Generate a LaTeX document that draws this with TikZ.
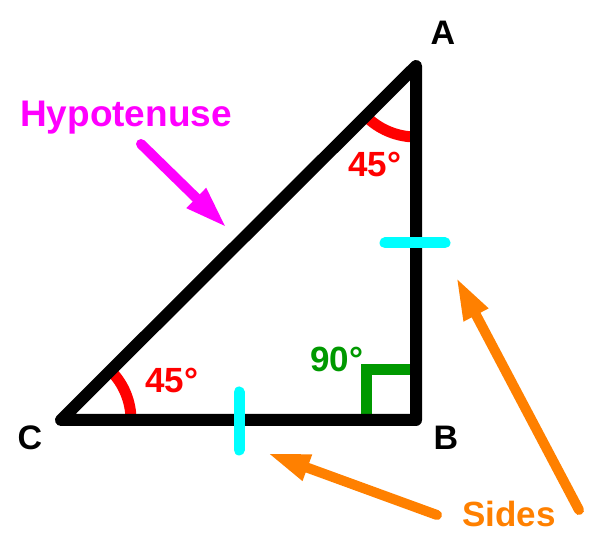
\documentclass[tikz,border=0pt]{standalone}
\usepackage{fontspec}
\setmainfont{Liberation Sans}
\usetikzlibrary{arrows.meta}
\definecolor{mag}{RGB}{255,0,255}
\definecolor{redc}{RGB}{255,0,0}
\definecolor{grn}{RGB}{0,153,0}
\definecolor{cyn}{RGB}{0,255,255}
\definecolor{org}{RGB}{255,128,0}
\tikzset{
  tri/.style={line width=12pt, line join=round, line cap=round},
  anglearc/.style={draw=redc, line width=11pt},
  rightmark/.style={draw=grn, line width=11pt},
  tick/.style={draw=cyn, line width=11pt, line cap=round},
  pointer/.style={line width=10pt, line cap=round, -{Triangle[length=43pt,width=25pt]}},
  lbl/.style={anchor=base, inner sep=0pt, font=\fontsize{34}{40}\selectfont\bfseries},
  big/.style={anchor=base, inner sep=0pt, font=\fontsize{35}{42}\selectfont\bfseries},
}
\begin{document}
\begin{tikzpicture}[x=1pt,y=1pt]
\useasboundingbox (0,0) rectangle (614,552);
% vertices
\coordinate (C) at (61,132);
\coordinate (B) at (416,132);
\coordinate (A) at (416,486);
% angle marks
\draw[anglearc] ([shift={(0:70)}]C) arc[start angle=0, end angle=45, radius=70];
\draw[anglearc] ([shift={(225:71)}]A) arc[start angle=225, end angle=270, radius=71];
\draw[rightmark] ([shift={(-50,0)}]B) -- ++(0,50) -- ++(50,0);
% triangle
\draw[tri] (C) -- (B) -- (A) -- cycle;
% ticks
\coordinate (t1a) at (239,160);
\coordinate (t1b) at (239,102);
\coordinate (t2a) at (385,309);
\coordinate (t2b) at (445,309);
\draw[tick] (t1a) -- (t1b);
\draw[tick] (t2a) -- (t2b);
% labels
\node[lbl] (lA) at (443,507) {A};
\node[lbl] (lB) at (446,102) {B};
\node[lbl] (lC) at (30,102) {C};
\node[big, text=redc] (a1) at (375,375) {45°};
\node[big, text=redc] (a2) at (172,159) {45°};
\node[big, text=grn] (a3) at (337,180) {90°};
\node[anchor=base, inner sep=0pt, font=\fontsize{37}{44}\selectfont\bfseries, text=mag] (hyp) at (126,425) {Hypotenuse};
\node[big, text=org] (sides) at (509,25) {Sides};
% arrows
\coordinate (m0) at (141,408);
\coordinate (m1) at (227,324);
\draw[pointer, draw=mag, fill=mag] (m0) -- (m1);
\coordinate (o0) at (579,42);
\coordinate (o1) at (456,275);
\draw[pointer, draw=org, fill=org] (o0) -- (o1);
\coordinate (p0) at (437,37);
\coordinate (p1) at (267,99);
\draw[pointer, draw=org, fill=org] (p0) -- (p1);
\end{tikzpicture}
\end{document}
